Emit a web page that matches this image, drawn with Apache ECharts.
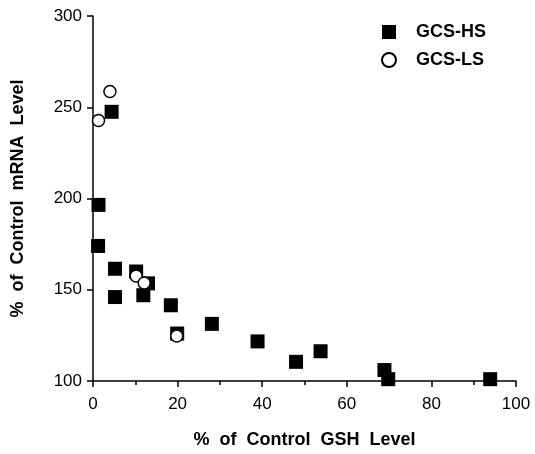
<!DOCTYPE html>
<html>
<head>
<meta charset="utf-8">
<script src="https://cdn.jsdelivr.net/npm/echarts@6/dist/echarts.min.js"></script>
<style>
  html, body { margin: 0; padding: 0; background: #fff; }
  #main { width: 535px; height: 454px; }
</style>
</head>
<body>
<div id="main"></div>
<script>
// % of control GSH level (x) vs % of control mRNA level (y)
var hsGsh  = [1.3, 1.2, 4.4, 5.2, 5.2, 10.2, 13.0, 11.9, 18.4, 19.9, 28.1, 38.9, 48.0, 53.8, 68.9, 69.8, 93.9];
var hsMrna = [196.5, 174, 247.5, 161.5, 146, 160, 153.5, 147, 141.5, 126, 131.3, 121.7, 110.5, 116.3, 106, 101, 101];
var lsGsh  = [1.3, 4.0, 10.2, 12.1, 19.8];
var lsMrna = [242.7, 258.6, 157.5, 153.7, 124.7];

var xTicks = [0, 20, 40, 60, 80, 100];
var yTicks = [100, 150, 200, 250, 300];

var fontName = 'Liberation Sans';

function pairs(xs, ys) {
  return xs.map(function (x, i) { return [x, ys[i]]; });
}

var myChart = echarts.init(document.getElementById('main'));

var axisCommon = {
  axisLine: { lineStyle: { color: '#000', width: 1.5 } },
  axisTick: { inside: false, length: 6, lineStyle: { color: '#000', width: 1.5 } },
  splitLine: { show: false },
  axisLabel: { color: '#000', fontFamily: fontName, fontSize: 17, margin: 11 },
  nameLocation: 'middle',
  nameTextStyle: { color: '#000', fontFamily: fontName, fontSize: 18, fontWeight: 'bold' }
};

var option = {
  animation: false,
  backgroundColor: '#fff',
  grid: { left: 93, right: 19, top: 16, bottom: 69, containLabel: false },
  legend: {
    orient: 'vertical',
    left: 376,
    top: 18,
    itemWidth: 14,
    itemHeight: 14,
    itemGap: 10,
    textStyle: {
      color: '#000', fontFamily: fontName, fontSize: 18, fontWeight: 'bold',
      lineHeight: 18, padding: [0, 0, 0, 15]
    },
    data: ['GCS-HS', 'GCS-LS']
  },
  xAxis: Object.assign({}, axisCommon, {
    type: 'value',
    min: xTicks[0],
    max: xTicks[xTicks.length - 1],
    interval: 20,
    axisLabel: { color: '#000', fontFamily: fontName, fontSize: 17, margin: 15 },
    minorTick: { show: true, splitNumber: 2, length: 4, lineStyle: { color: '#000', width: 1.5 } },
    name: '%  of  Control  GSH  Level',
    nameGap: 50
  }),
  yAxis: Object.assign({}, axisCommon, {
    type: 'value',
    min: yTicks[0],
    max: yTicks[yTicks.length - 1],
    interval: 50,
    name: '%  of  Control  mRNA  Level',
    nameGap: 66
  }),
  series: [
    {
      name: 'GCS-HS',
      type: 'scatter',
      symbol: 'rect',
      symbolSize: 14,
      itemStyle: { color: '#000', opacity: 1 },
      data: pairs(hsGsh, hsMrna)
    },
    {
      name: 'GCS-LS',
      type: 'scatter',
      symbol: 'circle',
      symbolSize: 12,
      itemStyle: { color: '#fff', borderColor: '#000', borderWidth: 1.5, opacity: 1 },
      data: pairs(lsGsh, lsMrna)
    }
  ]
};

myChart.setOption(option);
</script>
</body>
</html>
